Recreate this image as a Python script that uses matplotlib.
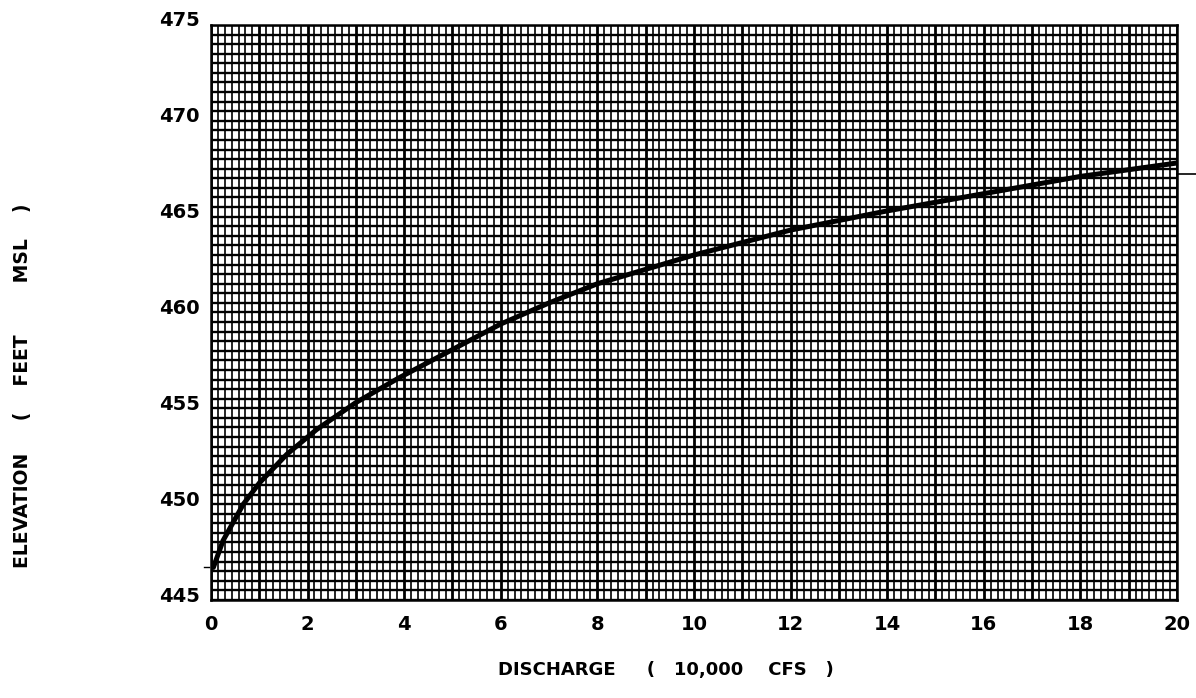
import matplotlib
matplotlib.use('Agg')
import matplotlib.pyplot as plt
import matplotlib.transforms as mtrans
from matplotlib.ticker import MultipleLocator

# rating curve
discharge = [0.05, 0.25, 0.67, 1.0, 1.57, 2.19, 3.0, 3.9, 4.95, 6.0, 7.0, 8.0,
             10.0, 12.0, 14.0, 16.0, 18.0, 20.0]
elevation = [446.7, 448.1, 450.0, 451.1, 452.6, 453.9, 455.3, 456.6, 458.0, 459.4,
             460.5, 461.5, 463.0, 464.3, 465.3, 466.2, 467.1, 467.8]

x_ticks = [0, 2, 4, 6, 8, 10, 12, 14, 16, 18, 20]
y_ticks = [445, 450, 455, 460, 465, 470, 475]

fig = plt.figure(figsize=(11.96, 6.98), dpi=100)
ax = fig.add_axes([0.1764, 0.1404, 0.8077, 0.8238])

ax.set_xlim(0, 20)
ax.set_ylim(445, 475)

# graph paper ruling
ax.xaxis.set_major_locator(MultipleLocator(1))
ax.xaxis.set_minor_locator(MultipleLocator(1 / 7))
ax.yaxis.set_major_locator(MultipleLocator(0.5))
ax.grid(which='major', axis='x', color='black', linewidth=2.0)
ax.grid(which='minor', axis='x', color='black', linewidth=1.2)
ax.grid(which='major', axis='y', color='black', linewidth=1.7)
ax.set_axisbelow(True)

ax.plot(discharge, elevation, color='black', linewidth=3.6, solid_capstyle='round')

# little marks off the frame
ax.plot([20, 20.4], [467.2, 467.2], color='black', linewidth=1.2, clip_on=False)
ax.plot([-0.15, -0.05], [446.7, 446.7], color='black', linewidth=1.0, clip_on=False)

for s in ax.spines.values():
    s.set_linewidth(1.8)

# labels only on every other ruling line
xs = list(range(21))
ax.set_xticks(xs)
ax.set_xticklabels([str(v) if v in x_ticks else '' for v in xs])
ys = [445 + 0.5 * i for i in range(61)]
ax.set_yticks(ys)
ax.set_yticklabels([str(int(v)) if v in y_ticks else '' for v in ys])

ax.tick_params(which='both', length=0)
ax.tick_params(axis='x', pad=11, labelsize=14)
ax.tick_params(axis='y', pad=8, labelsize=14)
for lab in ax.get_xticklabels() + ax.get_yticklabels():
    lab.set_fontweight('bold')
off = mtrans.ScaledTranslation(0, 6 / 100, fig.dpi_scale_trans)
for lab in ax.get_yticklabels():
    lab.set_transform(lab.get_transform() + off)

fig.text(0.557, 0.040, 'DISCHARGE     (   10,000    CFS   )', ha='center', va='center',
         fontsize=13, fontweight='bold')
fig.text(0.019, 0.448, 'ELEVATION     (    FEET        MSL    )', ha='center', va='center',
         rotation=90, fontsize=13.5, fontweight='bold')

fig.savefig('out.png', dpi=100, facecolor='white')
